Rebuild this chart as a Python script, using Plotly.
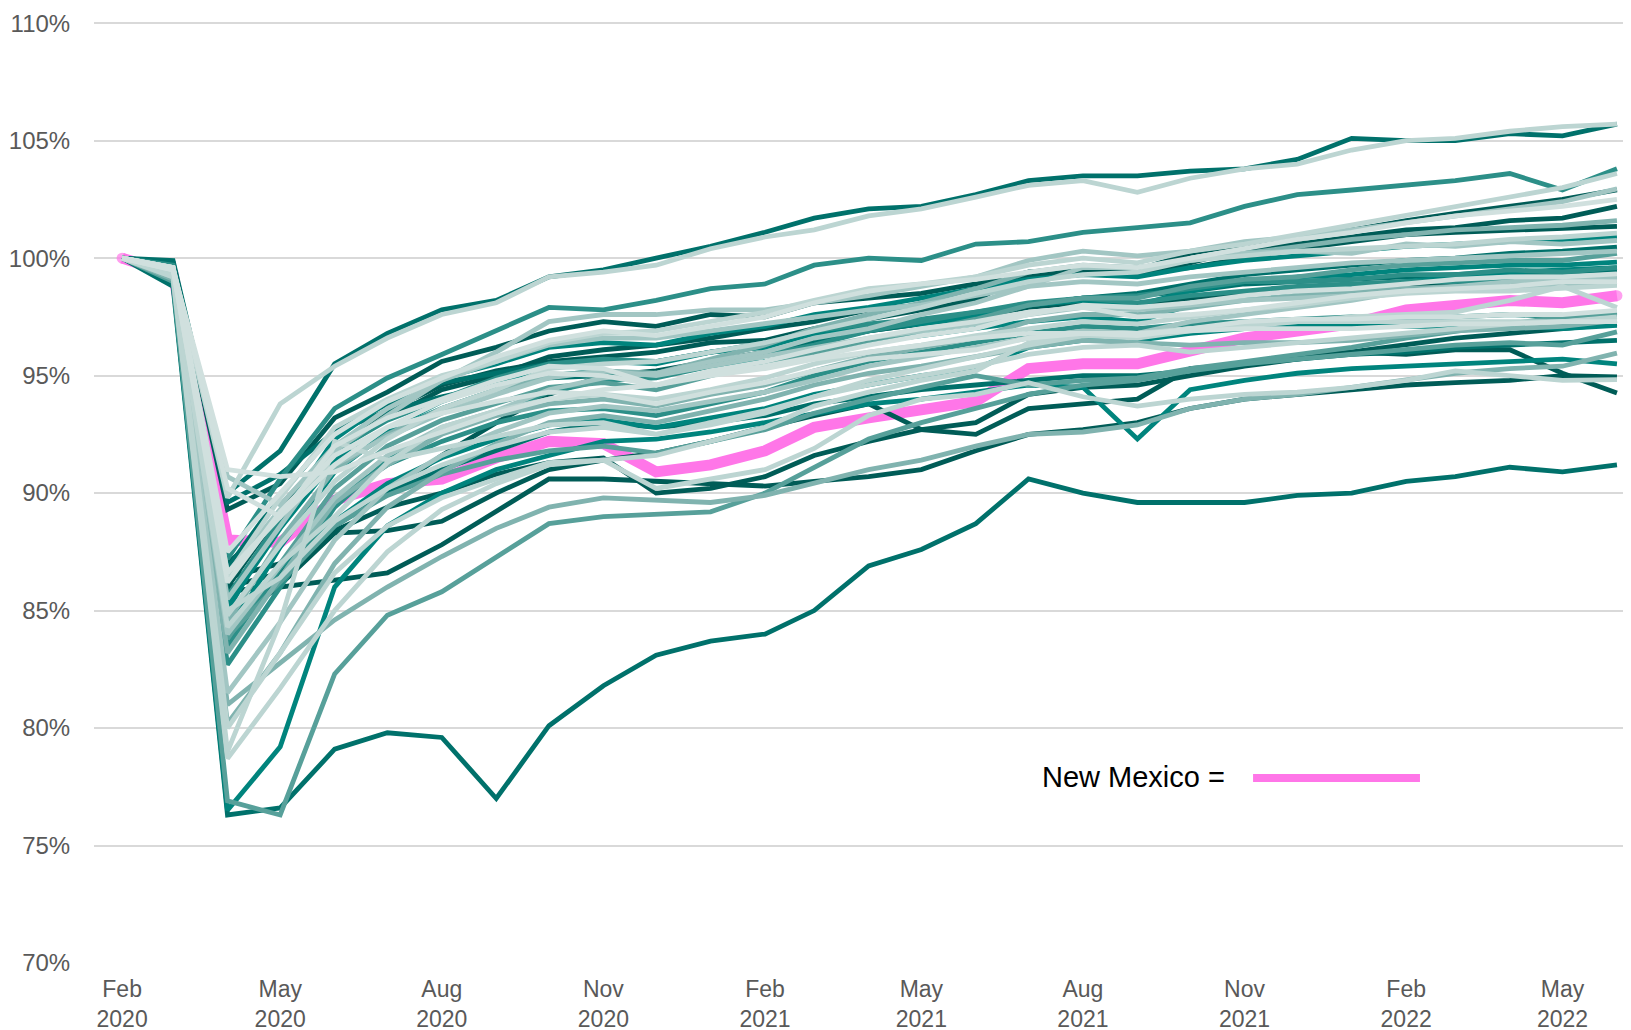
import pandas as pd
import plotly.graph_objects as go

# months: Feb 2020 .. Jun 2022
months = pd.date_range("2020-02-01", periods=29, freq="MS")

tick_dates = ["2020-02-01", "2020-05-01", "2020-08-01", "2020-11-01", "2021-02-01",
              "2021-05-01", "2021-08-01", "2021-11-01", "2022-02-01", "2022-05-01"]
tick_text = ["Feb<br>2020", "May<br>2020", "Aug<br>2020", "Nov<br>2020", "Feb<br>2021",
             "May<br>2021", "Aug<br>2021", "Nov<br>2021", "Feb<br>2022", "May<br>2022"]

# employment as % of Feb 2020 level
new_mexico = [100, 99.3, 88.0, 87.9, 89.7, 90.4, 90.6, 91.5, 92.2, 92.1, 90.9, 91.2, 91.8, 92.8, 93.2, 93.6, 93.9, 95.3, 95.5, 95.5, 96.1, 96.6, 96.9, 97.2, 97.8, 98.0, 98.2, 98.1, 98.4]

utah = [100, 99.9, 90.0, 91.8, 95.5, 96.8, 97.8, 98.2, 99.2, 99.5, 100.0, 100.5, 101.1, 101.7, 102.1, 102.2, 102.7, 103.3, 103.5, 103.5, 103.7, 103.8, 104.2, 105.1, 105.0, 105.0, 105.3, 105.2, 105.7]
idaho = [100, 99.6, 89.8, 93.8, 95.4, 96.6, 97.6, 98.1, 99.2, 99.4, 99.7, 100.4, 100.9, 101.2, 101.8, 102.1, 102.6, 103.1, 103.3, 102.8, 103.4, 103.8, 104.0, 104.6, 105.0, 105.1, 105.4, 105.6, 105.7]
hawaii = [100, 98.8, 76.3, 76.6, 79.1, 79.8, 79.6, 77.0, 80.1, 81.8, 83.1, 83.7, 84.0, 85.0, 86.9, 87.6, 88.7, 90.6, 90.0, 89.6, 89.6, 89.6, 89.9, 90.0, 90.5, 90.7, 91.1, 90.9, 91.2]
nevada = [100, 99.0, 76.9, 76.3, 82.3, 84.8, 85.8, 87.3, 88.7, 89.0, 89.1, 89.2, 90.0, 91.1, 92.3, 93.0, 93.6, 94.2, 94.6, 94.8, 95.2, 95.5, 95.7, 95.9, 96.1, 96.3, 96.4, 96.3, 96.86]
s05 = [100, 99.7, 87.2, 90.6, 93.6, 94.9, 95.9, 96.9, 97.9, 97.8, 98.2, 98.7, 98.9, 99.7, 100.0, 99.9, 100.6, 100.7, 101.1, 101.3, 101.5, 102.2, 102.7, 102.9, 103.1, 103.3, 103.6, 102.9, 103.8]
s06 = [100, 99.5, 86.5, 89.8, 92.8, 94.0, 95.0, 95.6, 96.4, 96.8, 96.9, 97.3, 97.7, 98.2, 98.7, 98.9, 99.2, 99.7, 100.0, 99.8, 100.3, 100.6, 101.0, 101.4, 101.8, 102.2, 102.6, 103.0, 103.6]
s07 = [100, 99.4, 85.5, 88.6, 91.8, 93.3, 94.8, 96.0, 97.3, 97.6, 97.6, 97.8, 97.8, 98.1, 98.4, 98.8, 99.2, 99.9, 100.3, 100.1, 100.3, 100.7, 100.9, 101.2, 101.5, 101.8, 102.1, 102.4, 102.95]
s08 = [100, 99.8, 89.3, 90.4, 93.2, 94.3, 95.6, 96.2, 96.9, 97.3, 97.1, 97.6, 97.5, 98.1, 98.3, 98.5, 98.9, 99.4, 99.6, 99.5, 100.2, 100.6, 100.8, 101.2, 101.6, 101.9, 102.2, 102.5, 102.9]
s09 = [100, 99.6, 86.0, 89.2, 92.0, 93.2, 94.4, 95.0, 95.8, 96.1, 96.3, 96.6, 97.0, 97.3, 97.8, 98.0, 98.3, 99.2, 99.4, 99.3, 99.8, 100.4, 100.6, 100.9, 101.2, 101.3, 101.6, 101.7, 102.2]
s10 = [100, 99.5, 87.0, 89.0, 91.8, 93.5, 94.6, 95.2, 95.6, 95.8, 96.0, 96.4, 96.5, 97.0, 97.4, 97.8, 98.2, 99.4, 99.5, 99.4, 99.6, 100.0, 100.4, 100.7, 101.0, 101.1, 101.2, 101.3, 101.35]
s11 = [100, 99.6, 84.8, 87.8, 90.5, 92.3, 93.6, 94.4, 95.3, 95.5, 95.6, 96.0, 96.4, 96.9, 97.4, 97.9, 98.5, 99.0, 99.3, 99.4, 99.9, 100.1, 100.3, 100.4, 100.5, 100.6, 100.8, 100.9, 101.06]
s12 = [100, 99.3, 84.0, 86.9, 89.8, 91.6, 92.8, 93.5, 94.4, 94.9, 95.1, 95.6, 96.0, 96.6, 97.0, 97.6, 98.1, 98.8, 99.6, 99.6, 99.9, 100.2, 100.3, 100.2, 100.6, 100.5, 100.7, 100.6, 100.75]
s13 = [100, 99.7, 86.8, 89.9, 92.6, 93.8, 94.7, 95.1, 95.5, 95.6, 95.6, 96.0, 96.3, 96.8, 97.1, 97.3, 97.6, 98.0, 98.3, 98.5, 98.9, 99.3, 99.5, 99.7, 99.9, 100.0, 100.2, 100.3, 100.47]
s14 = [100, 99.4, 83.8, 87.0, 90.2, 92.0, 93.1, 93.8, 94.5, 94.7, 94.4, 95.0, 95.5, 96.0, 96.5, 96.9, 97.4, 98.0, 98.3, 98.3, 98.8, 99.1, 99.2, 99.5, 99.7, 99.8, 99.9, 99.9, 100.2]
s15 = [100, 99.4, 85.2, 88.5, 91.4, 92.7, 93.9, 94.7, 95.4, 95.6, 95.5, 96.0, 96.2, 96.8, 97.0, 97.2, 97.5, 98.0, 98.2, 98.0, 98.6, 99.0, 99.2, 99.3, 99.5, 99.6, 99.7, 99.7, 99.83]
s16 = [100, 99.2, 82.7, 86.0, 89.4, 91.4, 92.6, 93.4, 94.3, 94.8, 94.9, 95.4, 95.9, 96.3, 96.9, 97.3, 97.7, 98.1, 98.3, 98.4, 98.7, 99.0, 99.0, 99.1, 99.3, 99.3, 99.5, 99.4, 99.6]
s17 = [100, 99.5, 86.6, 89.0, 91.2, 92.8, 93.9, 94.6, 95.1, 95.0, 94.6, 95.1, 95.4, 95.8, 96.3, 96.7, 97.0, 97.6, 98.0, 97.9, 98.1, 98.4, 98.6, 98.7, 98.9, 99.1, 99.2, 99.2, 99.33]
s18 = [100, 99.3, 83.2, 86.4, 89.6, 91.2, 92.5, 93.3, 93.8, 94.0, 93.7, 94.2, 94.6, 95.2, 95.8, 96.2, 96.6, 97.3, 97.6, 97.6, 97.9, 98.2, 98.4, 98.6, 98.7, 98.8, 98.8, 98.9, 99.05]
s19 = [100, 99.4, 84.3, 87.0, 89.0, 91.3, 92.8, 93.5, 94.0, 94.2, 94.0, 94.4, 94.9, 95.5, 96.0, 96.3, 96.7, 97.0, 97.3, 97.2, 97.5, 97.8, 98.0, 98.3, 98.5, 98.6, 98.6, 98.7, 98.84]
s20 = [100, 99.6, 86.2, 89.2, 91.6, 92.8, 93.4, 93.9, 94.3, 94.2, 93.8, 94.3, 94.7, 95.2, 95.7, 95.9, 96.1, 96.6, 96.8, 96.7, 97.0, 97.3, 97.4, 97.4, 97.5, 97.5, 97.6, 97.6, 97.78]
s21 = [100, 99.2, 81.5, 84.5, 88.0, 90.2, 91.6, 92.6, 93.4, 93.7, 93.5, 93.9, 94.3, 94.8, 95.4, 95.8, 96.2, 96.6, 96.9, 96.8, 97.3, 97.6, 97.9, 98.2, 98.6, 98.8, 99.0, 99.1, 99.2]
s22 = [100, 99.1, 80.2, 83.2, 87.0, 89.4, 90.9, 92.1, 93.0, 93.3, 93.0, 93.5, 94.0, 94.6, 95.1, 95.4, 95.8, 96.2, 96.5, 96.4, 96.3, 96.4, 96.4, 96.5, 96.7, 96.9, 97.0, 97.1, 97.35]
s23 = [100, 99.3, 84.6, 86.8, 88.8, 90.4, 91.5, 92.3, 92.9, 93.1, 92.8, 93.2, 93.6, 94.2, 94.6, 95.0, 95.3, 96.2, 96.5, 96.5, 96.8, 97.0, 97.1, 97.1, 97.1, 97.1, 97.1, 97.0, 97.14]
s24 = [100, 99.2, 81.0, 82.8, 84.6, 86.0, 87.3, 88.5, 89.4, 89.8, 89.7, 89.6, 89.9, 90.4, 91.0, 91.4, 92.0, 92.5, 92.6, 92.9, 93.6, 94.0, 94.2, 94.5, 94.8, 95.1, 95.3, 95.4, 95.96]
s25 = [100, 99.0, 76.5, 79.2, 86.0, 88.6, 90.0, 91.0, 91.6, 92.2, 92.3, 92.6, 93.0, 93.4, 93.8, 94.0, 94.3, 94.6, 94.5, 92.3, 94.4, 94.8, 95.1, 95.3, 95.4, 95.5, 95.6, 95.7, 95.5]
s26 = [100, 99.6, 84.6, 86.0, 86.3, 86.6, 87.8, 89.2, 90.6, 90.6, 90.5, 90.4, 90.3, 90.5, 90.7, 91.0, 91.8, 92.5, 92.7, 93.0, 93.6, 94.0, 94.2, 94.4, 94.6, 94.7, 94.8, 95.0, 94.94]
s27 = [100, 99.3, 80.0, 83.2, 86.6, 88.6, 89.8, 90.6, 91.3, 91.4, 90.2, 90.6, 91.0, 91.9, 93.3, 94.0, 94.2, 94.7, 94.1, 93.7, 94.0, 94.2, 94.3, 94.5, 94.8, 95.2, 95.0, 94.8, 94.83]
s28 = [100, 99.6, 85.8, 86.1, 88.3, 88.4, 88.8, 90.0, 91.0, 91.4, 91.7, 92.2, 92.8, 93.3, 93.8, 92.7, 92.5, 93.6, 93.8, 94.0, 95.3, 95.5, 95.8, 96.0, 95.9, 96.1, 96.1, 95.1, 94.26]
s29 = [100, 99.5, 91.0, 90.7, 90.9, 91.8, 92.6, 93.4, 94.0, 94.4, 94.6, 95.0, 95.3, 95.7, 96.0, 96.3, 96.6, 96.8, 96.8, 96.8, 96.9, 97.0, 97.0, 97.0, 97.1, 97.2, 97.2, 97.3, 97.3]
s30 = [100, 99.4, 79.0, 84.5, 92.2, 91.4, 91.9, 92.4, 92.9, 93.0, 92.5, 93.0, 93.5, 94.1, 94.6, 95.0, 95.4, 95.9, 96.2, 96.3, 96.0, 96.2, 96.4, 96.6, 96.8, 97.0, 97.2, 97.3, 97.5]
s31 = [100, 99.8, 89.6, 90.8, 92.6, 93.5, 94.1, 94.6, 94.9, 95.0, 95.1, 95.5, 95.9, 96.4, 96.9, 97.2, 97.6, 98.0, 98.3, 98.4, 98.6, 98.9, 99.0, 99.1, 99.2, 99.3, 99.4, 99.4, 99.5]
s32 = [100, 99.5, 85.0, 88.9, 92.3, 93.9, 94.9, 95.5, 96.2, 96.4, 96.3, 96.8, 97.1, 97.6, 97.9, 98.3, 98.7, 99.1, 99.3, 99.2, 99.6, 99.9, 100.1, 100.3, 100.5, 100.6, 100.7, 100.8, 100.9]
s33 = [100, 99.6, 87.5, 90.0, 92.5, 93.9, 94.9, 95.8, 96.5, 96.9, 96.7, 97.1, 97.5, 98.1, 98.6, 98.9, 99.1, 99.4, 99.7, 99.6, 100.0, 100.4, 100.8, 101.1, 101.5, 101.8, 102.0, 102.2, 102.5]
s34 = [100, 99.3, 84.5, 88.0, 91.0, 92.5, 93.6, 94.4, 95.0, 95.2, 95.1, 95.7, 96.3, 97.0, 97.6, 98.1, 98.7, 99.4, 99.7, 99.6, 99.9, 100.2, 100.5, 100.8, 101.0, 101.2, 101.3, 101.4, 101.6]
s35 = [100, 99.7, 86.4, 87.0, 88.6, 90.0, 91.6, 93.0, 94.2, 95.0, 95.2, 95.6, 96.0, 96.5, 96.9, 97.2, 97.5, 97.9, 98.1, 98.0, 98.3, 98.5, 98.7, 98.8, 98.9, 98.9, 99.0, 98.9, 99.0]
s36 = [100, 99.4, 86.6, 89.3, 91.2, 92.4, 93.4, 94.2, 94.9, 95.2, 95.0, 95.4, 95.8, 96.2, 96.6, 96.9, 97.2, 97.6, 97.9, 97.8, 98.0, 98.2, 98.3, 98.4, 98.6, 98.7, 98.8, 98.8, 98.9]
s37 = [100, 99.1, 83.5, 86.8, 89.8, 91.2, 92.2, 93.0, 93.5, 93.6, 93.3, 93.8, 94.3, 95.0, 95.6, 96.0, 96.4, 96.8, 97.1, 97.0, 97.2, 97.3, 97.4, 97.5, 97.4, 97.5, 97.6, 97.5, 97.6]
s38 = [100, 99.5, 85.0, 86.4, 88.8, 90.2, 91.2, 92.0, 92.6, 92.8, 92.5, 92.9, 93.4, 94.1, 94.8, 95.3, 95.8, 96.3, 96.7, 96.6, 96.9, 97.1, 97.3, 97.5, 97.6, 97.7, 98.2, 98.8, 97.9]
s39 = [100, 99.3, 83.9, 86.2, 88.6, 89.9, 90.8, 91.4, 91.8, 92.0, 91.7, 92.2, 92.7, 93.4, 94.0, 94.5, 95.0, 94.6, 94.8, 94.9, 95.3, 95.6, 95.9, 96.2, 96.6, 96.9, 97.2, 97.5, 97.7]
s40 = [100, 99.6, 86.0, 86.6, 88.4, 89.4, 90.0, 90.8, 91.3, 91.5, 90.0, 90.2, 90.7, 91.6, 92.2, 92.7, 93.0, 94.2, 94.5, 94.6, 95.0, 95.4, 95.7, 96.0, 96.3, 96.6, 96.8, 97.0, 97.2]
s41 = [100, 99.4, 84.0, 87.7, 90.9, 92.6, 93.6, 94.4, 95.0, 95.2, 95.0, 95.4, 95.6, 96.0, 96.4, 96.7, 97.0, 97.3, 97.5, 97.3, 98.0, 98.3, 98.6, 98.8, 99.0, 99.2, 99.4, 99.5, 99.6]
s42 = [100, 99.6, 90.2, 89.0, 92.0, 93.2, 94.0, 94.8, 95.4, 95.3, 94.6, 95.2, 95.6, 96.1, 96.6, 97.0, 97.3, 97.7, 97.9, 97.5, 97.6, 97.8, 98.1, 98.4, 98.6, 98.7, 98.8, 99.0, 99.0]
s43 = [100, 99.5, 84.2, 86.5, 88.6, 90.0, 91.0, 91.8, 92.6, 93.0, 92.8, 93.0, 93.3, 93.8, 94.1, 94.4, 94.6, 94.8, 95.0, 95.0, 95.2, 95.5, 95.7, 95.9, 96.0, 96.2, 96.3, 96.4, 96.5]
s44 = [100, 99.5, 90.7, 89.5, 92.0, 93.6, 94.8, 95.6, 96.3, 96.6, 96.6, 96.9, 97.2, 97.5, 97.8, 98.0, 98.4, 98.8, 99.0, 98.9, 99.2, 99.4, 99.6, 99.8, 99.9, 100.0, 100.1, 100.2, 100.3]
s45 = [100, 99.6, 85.6, 88.9, 91.8, 93.1, 94.0, 94.9, 95.5, 95.7, 95.6, 96.0, 96.4, 96.9, 97.2, 97.4, 97.7, 98.0, 98.3, 98.1, 98.4, 98.6, 98.8, 98.9, 99.0, 99.0, 99.1, 99.1, 99.2]
s46 = [100, 99.2, 78.7, 81.7, 85.0, 87.5, 89.3, 90.4, 91.2, 91.4, 91.6, 92.2, 92.8, 93.7, 94.3, 94.8, 95.2, 96.4, 96.7, 96.8, 97.0, 97.2, 97.3, 97.3, 97.3, 97.3, 97.3, 97.3, 97.4]

# shade index per series (0 = darkest teal, 8 = lightest grey)
shades = ["#005c57", "#00716b", "#00847d", "#2c8f88", "#57a09a", "#80b3af", "#a2c6c3", "#bcd5d2", "#d0e0de"]
series = [
    (utah, 1), (idaho, 7), (hawaii, 1), (nevada, 4), (s05, 3), (s06, 7), (s07, 6),
    (s08, 0), (s09, 0), (s10, 0), (s11, 7), (s12, 6), (s13, 1), (s14, 4), (s15, 2),
    (s16, 3), (s17, 8), (s18, 5), (s19, 7), (s20, 8), (s21, 6), (s22, 5), (s23, 2),
    (s24, 5), (s25, 2), (s26, 0), (s27, 7), (s28, 0), (s29, 8), (s30, 7), (s31, 1),
    (s32, 2), (s33, 8), (s34, 5), (s35, 0), (s36, 6), (s37, 3), (s38, 7), (s39, 4),
    (s40, 0), (s41, 2), (s42, 8), (s43, 1), (s44, 6), (s45, 3), (s46, 7),
]
for vals, _ in series:
    assert len(vals) == len(months)

PINK = "#ff76e8"
FONT = "Liberation Sans, Arial, sans-serif"

fig = go.Figure()

# New Mexico underneath, thick
n = len(new_mexico)
fig.add_trace(go.Scatter(
    x=months, y=new_mexico, mode="lines+markers", name="New Mexico",
    line=dict(color=PINK, width=11),
    marker=dict(color=PINK, size=[11] + [0] * (n - 2) + [11], line=dict(width=0)),
))

# other states, dark first so the light ones sit on top
for vals, shade in sorted(series, key=lambda s: s[1]):
    fig.add_trace(go.Scatter(
        x=months, y=vals, mode="lines",
        line=dict(color=shades[shade], width=4.8),
    ))

fig.add_annotation(
    xref="paper", yref="paper", x=0.6155, y=0.1977, xanchor="left", yanchor="middle",
    text="New Mexico =", showarrow=False, font=dict(family=FONT, size=29, color="#000000"),
)
fig.add_shape(
    type="line", xref="paper", yref="paper", x0=0.7541, x1=0.8627, y0=0.1966, y1=0.1966,
    line=dict(color=PINK, width=8),
)

# the page body adds an 8px offset, so the figure is 8px smaller than the window
fig.update_layout(
    width=1623, height=1022,
    margin=dict(l=86, r=0, t=14, b=67),
    plot_bgcolor="white", paper_bgcolor="white",
    showlegend=False,
    font=dict(family=FONT, color="#595959"),
)
fig.update_xaxes(
    type="date", range=["2020-01-16", "2022-06-09"], automargin=False,
    tickvals=tick_dates, ticktext=tick_text,
    showgrid=False, zeroline=False, showline=False,
    ticks="outside", ticklen=5, tickcolor="rgba(0,0,0,0)",
    tickfont=dict(family=FONT, size=23, color="#595959"),
)
fig.update_yaxes(
    range=[70, 110.05], dtick=5, ticksuffix="%", automargin=False,
    showgrid=True, gridcolor="#d9d9d9", gridwidth=2, zeroline=False, showline=False,
    ticks="outside", ticklen=18, tickcolor="rgba(0,0,0,0)",
    tickfont=dict(family=FONT, size=24, color="#595959"),
)

fig.write_html("out.html")
